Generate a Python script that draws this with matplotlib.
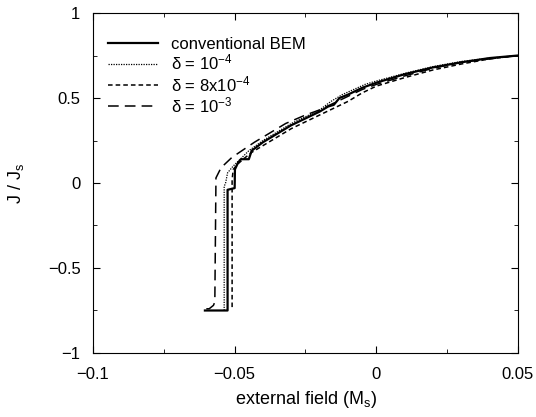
import matplotlib
matplotlib.use("Agg")
import matplotlib.pyplot as plt
from matplotlib.ticker import MultipleLocator

plt.rcParams["font.family"] = ["Liberation Sans", "DejaVu Sans"]
plt.rcParams["mathtext.fontset"] = "custom"
plt.rcParams["mathtext.rm"] = "Liberation Sans"
plt.rcParams["mathtext.it"] = "Liberation Sans"

# conventional BEM
x_bem = [-0.0605, -0.0525, -0.0525, -0.0500, -0.0499, -0.0488, -0.0478, -0.0450,
         -0.0440, -0.0400, -0.0350, -0.0300, -0.0250, -0.0200, -0.0170, -0.0150,
         -0.0130, -0.0100, -0.0050, 0.0000, 0.0100, 0.0200, 0.0300, 0.0400, 0.0500]
y_bem = [-0.75, -0.75, -0.04, -0.03, 0.08, 0.12, 0.14, 0.14,
         0.19, 0.24, 0.29, 0.34, 0.38, 0.42, 0.45, 0.46,
         0.50, 0.52, 0.56, 0.59, 0.64, 0.68, 0.71, 0.735, 0.75]

# delta = 1e-4
x_d1 = [-0.0537, -0.0537, -0.0532, -0.0525, -0.0505, -0.0480, -0.0450, -0.0400,
        -0.0350, -0.0300, -0.0250, -0.0200, -0.0160, -0.0120, -0.0080, -0.0040,
        0.0000, 0.0100, 0.0200, 0.0300, 0.0400, 0.0500]
y_d1 = [-0.75, -0.02, 0.00, 0.06, 0.10, 0.14, 0.19, 0.25,
        0.30, 0.35, 0.39, 0.43, 0.48, 0.52, 0.55, 0.58,
        0.60, 0.645, 0.685, 0.715, 0.735, 0.75]

# delta = 8e-4
x_d8 = [-0.0509, -0.0509, -0.0505, -0.0490, -0.0470, -0.0440, -0.0400, -0.0350,
        -0.0300, -0.0250, -0.0200, -0.0150, -0.0100, -0.0050, 0.0000, 0.0100,
        0.0200, 0.0300, 0.0400, 0.0500]
y_d8 = [-0.73, 0.02, 0.08, 0.11, 0.14, 0.18, 0.22, 0.27,
        0.32, 0.36, 0.40, 0.44, 0.48, 0.53, 0.57, 0.62,
        0.665, 0.70, 0.73, 0.75]

# delta = 1e-3
x_d3 = [-0.0600, -0.0590, -0.0575, -0.0570, -0.0566, -0.0548, -0.0510, -0.0430,
        -0.0320, -0.0250, -0.0200, -0.0150, -0.0100, -0.0050, 0.0000, 0.0100,
        0.0200, 0.0300, 0.0400, 0.0500]
y_d3 = [-0.74, -0.74, -0.72, -0.70, 0.03, 0.09, 0.15, 0.24,
        0.35, 0.40, 0.43, 0.47, 0.51, 0.55, 0.58, 0.63,
        0.675, 0.71, 0.73, 0.75]

fig = plt.figure(figsize=(5.36, 4.17), dpi=100)
ax = fig.add_axes([0.1735, 0.1535, 0.7929, 0.8153])

ax.plot(x_bem, y_bem, color="black", lw=1.6, ls="-", label="conventional BEM")
ax.plot(x_d1, y_d1, color="black", lw=0.9, ls=(0, (1, 1)), label=r"$\delta$ = 10$^{-4}$")
ax.plot(x_d8, y_d8, color="black", lw=1.1, ls=(0, (3, 2)), label=r"$\delta$ = 8x10$^{-4}$")
ax.plot(x_d3, y_d3, color="black", lw=1.1, ls=(0, (7, 4)), label=r"$\delta$ = 10$^{-3}$")

ax.set_xlim(-0.1, 0.05)
ax.set_ylim(-1, 1)
ax.xaxis.set_minor_locator(MultipleLocator(0.025))
ax.yaxis.set_minor_locator(MultipleLocator(0.25))
ax.set_xticks([-0.1, -0.05, 0, 0.05])
ax.set_xticklabels(["\u22120.1", "\u22120.05", "0", "0.05"])
ax.set_yticks([-1, -0.5, 0, 0.5, 1])
ax.set_yticklabels(["\u22121", "\u22120.5", "0", "0.5", "1"])
ax.tick_params(which="both", direction="in", top=True, right=True, labelsize=12)
ax.tick_params(which="major", length=5)
ax.tick_params(which="minor", length=3)
ax.tick_params(axis="x", which="major", pad=10)
ax.tick_params(axis="y", which="major", pad=9)

ax.set_xlabel(r"external field (M$_s$)", fontsize=13, labelpad=5)
ax.set_ylabel(r"J / J$_s$", fontsize=13, labelpad=16)

ax.legend(loc="upper left", frameon=False, fontsize=12, handlelength=3.0,
          labelspacing=0.08, bbox_to_anchor=(0.0, 0.975), handletextpad=0.8)

fig.savefig("out.png", dpi=100)
